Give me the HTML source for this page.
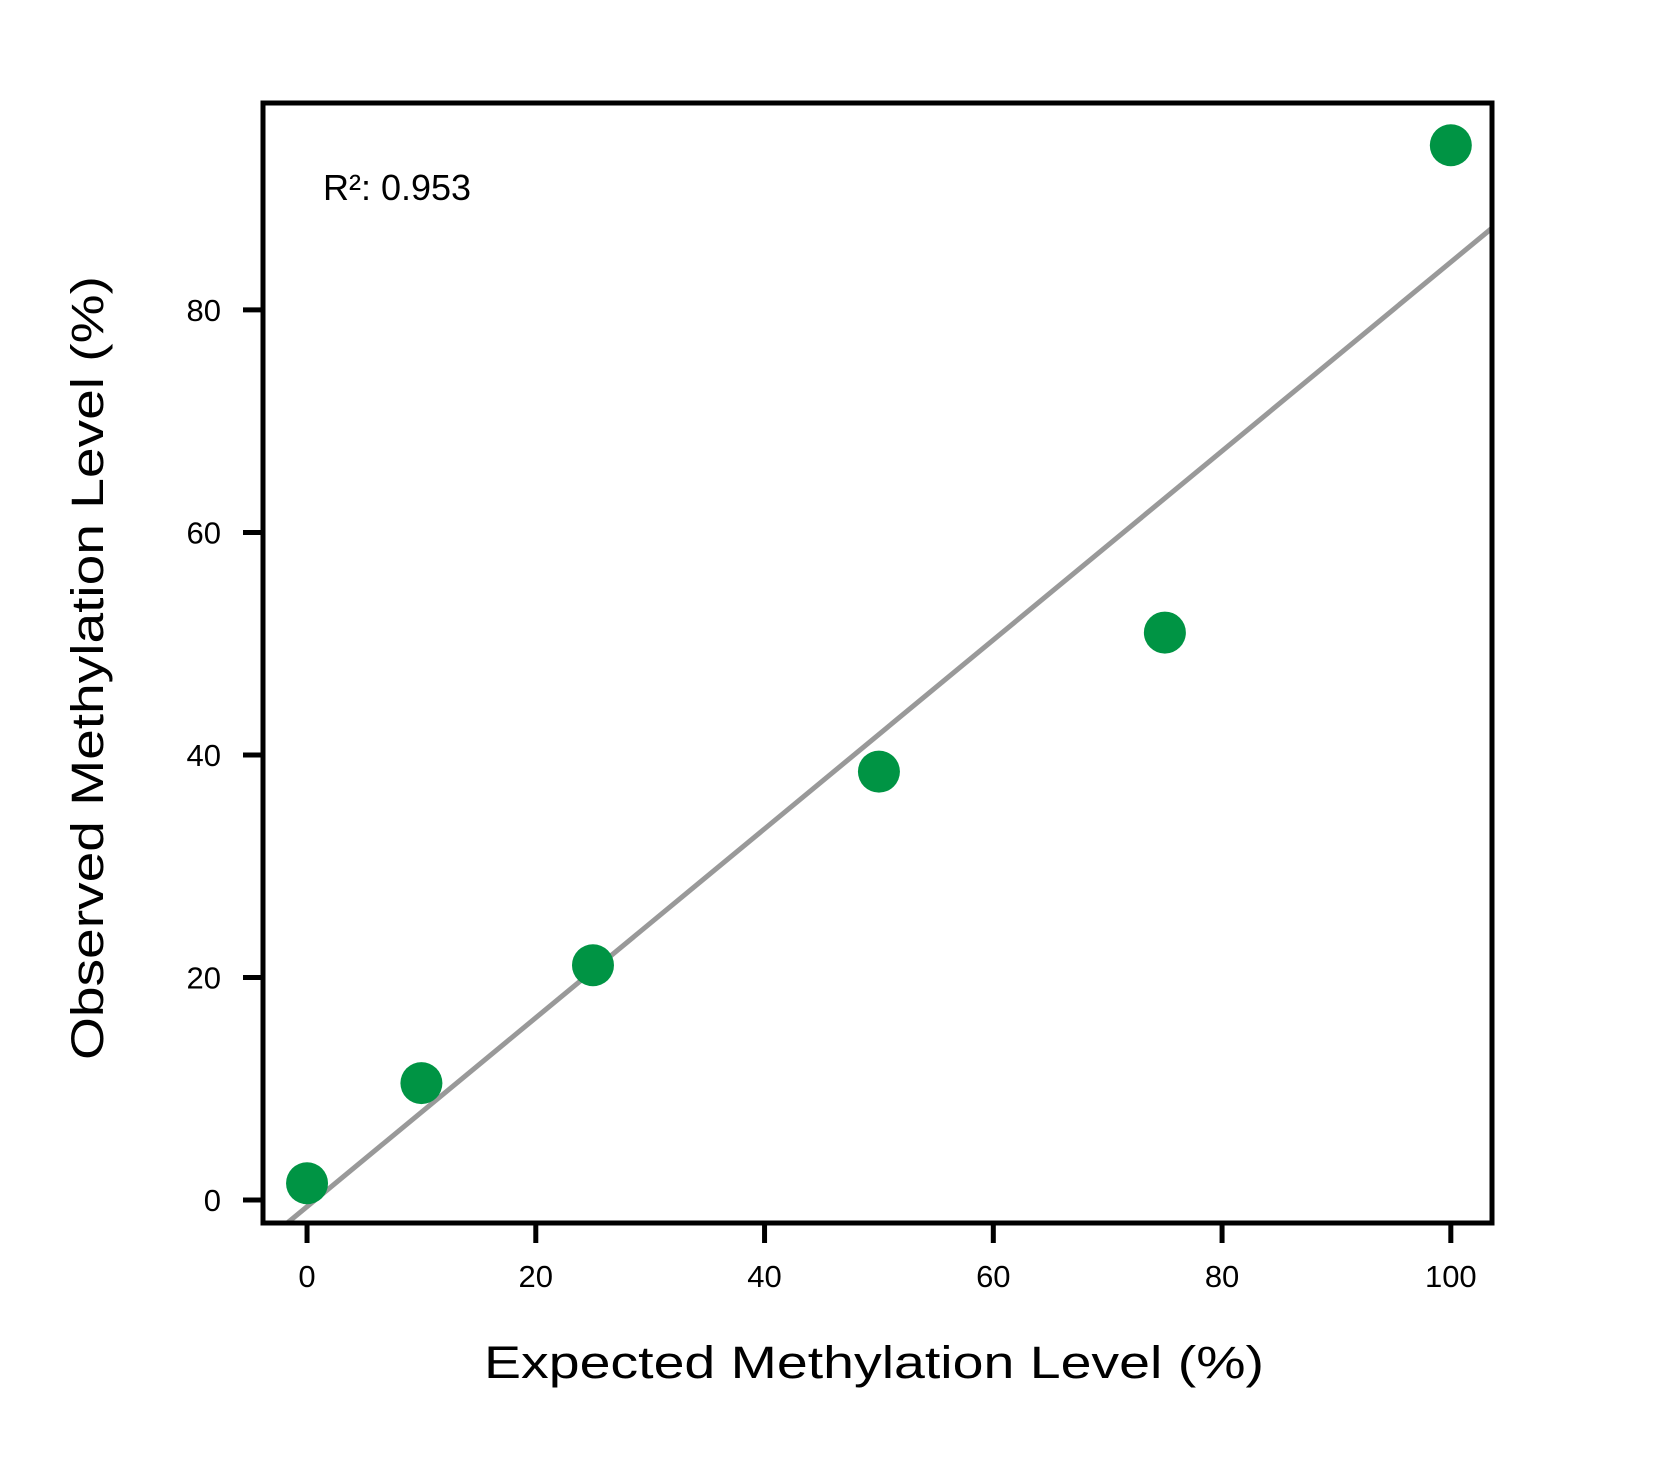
<!DOCTYPE html>
<html><head><meta charset="utf-8"><style>
html,body{margin:0;padding:0;background:#fff;}
svg{display:block;font-family:"Liberation Sans",sans-serif;}
</style></head><body>
<svg id="chart" width="1667" height="1459" viewBox="0 0 1667 1459" xmlns="http://www.w3.org/2000/svg">
<rect width="1667" height="1459" fill="#fff"/>
<g id="plot"></g>
</svg>
<script>
const expected = [0, 10, 25, 50, 75, 100];
const observed = [1.5, 10.5, 21.1, 38.5, 51.0, 94.8];
const xTicks = [0, 20, 40, 60, 80, 100];
const yTicks = [0, 20, 40, 60, 80];
const fitSlope = [0.849];
const fitIntercept = [-0.6];
const r2Label = ["R\u00b2: 0.953"];

const NS = "http://www.w3.org/2000/svg";
const L = 263, R = 1492, T = 103, B = 1223;
const xMin = -3.85, xMax = 103.6, yMin = -2.07, yMax = 98.6;
const sx = v => L + (v - xMin) / (xMax - xMin) * (R - L);
const sy = v => B - (v - yMin) / (yMax - yMin) * (B - T);
const g = document.getElementById('plot');
function mk(tag, attrs, parent) {
  const e = document.createElementNS(NS, tag);
  for (const k in attrs) e.setAttribute(k, attrs[k]);
  (parent || g).appendChild(e);
  return e;
}
// clip
const defs = mk('defs', {});
const cp = mk('clipPath', {id: 'clip'}, defs);
mk('rect', {x: L, y: T, width: R - L, height: B - T}, cp);

// fit line
const m = fitSlope[0], c = fitIntercept[0];
const line = mk('line', {x1: sx(xMin), y1: sy(m * xMin + c), x2: sx(xMax), y2: sy(m * xMax + c), stroke: '#999', 'stroke-width': 5, 'clip-path': 'url(#clip)'});



// points
expected.forEach((x, i) => {
  const p = mk('circle', {cx: sx(x), cy: sy(observed[i]), r: 21, fill: '#009444'});
  
  
});

// frame
const fr = mk('rect', {x: L, y: T, width: R - L, height: B - T, fill: 'none', stroke: '#000', 'stroke-width': 5});



// x ticks
xTicks.forEach(v => {
  const t = mk('line', {x1: sx(v), x2: sx(v), y1: B, y2: B + 20, stroke: '#000', 'stroke-width': 5});
  
  
  const tx = mk('text', {x: sx(v), y: B + 64, 'font-size': 31, 'text-anchor': 'middle', fill: '#000'});
  tx.textContent = v;
  
  
});
// y ticks
yTicks.forEach(v => {
  const t = mk('line', {x1: L - 20, x2: L, y1: sy(v), y2: sy(v), stroke: '#000', 'stroke-width': 5});
  
  
  const tx = mk('text', {x: L - 42, y: sy(v) + 11, 'font-size': 31, 'text-anchor': 'end', fill: '#000'});
  tx.textContent = v;
  
  
});
// titles
const xt = mk('text', {x: 874, y: 1378, 'font-size': 45, 'text-anchor': 'middle', textLength: 780, lengthAdjust: 'spacingAndGlyphs'});
xt.textContent = 'Expected Methylation Level (%)';


const yt = mk('text', {x: 0, y: 0, 'font-size': 45, 'text-anchor': 'middle', textLength: 784, lengthAdjust: 'spacingAndGlyphs', transform: 'translate(103,668) rotate(-90)'});
yt.textContent = 'Observed Methylation Level (%)';


const r2 = mk('text', {x: 323, y: 200, 'font-size': 36});
r2.textContent = r2Label[0];


</script>
</body></html>
